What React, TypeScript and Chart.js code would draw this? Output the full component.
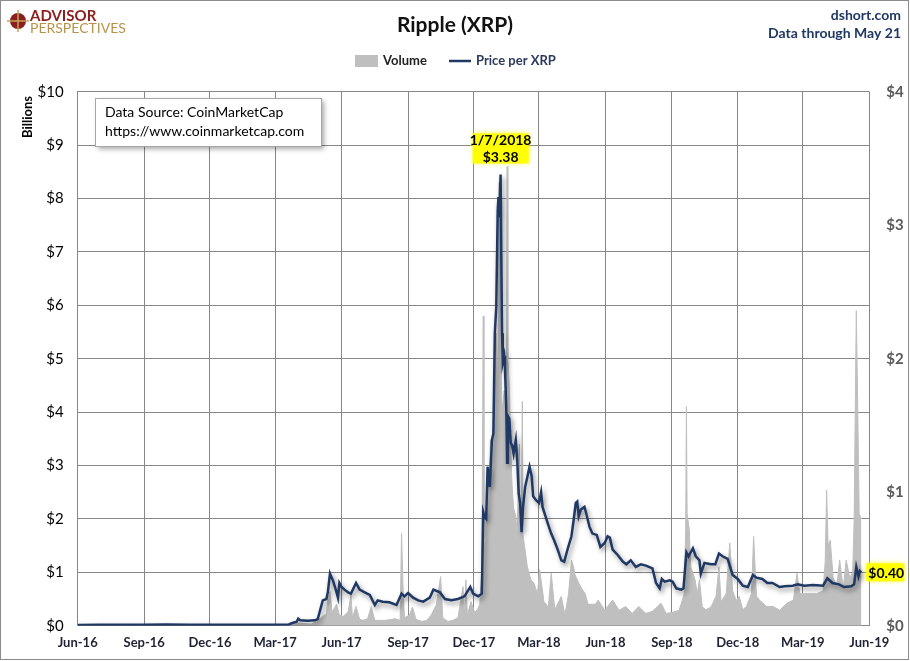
import React, { useEffect, useRef } from 'react';
import { Chart, registerables } from 'chart.js';

Chart.register(...registerables);

// ---- axis ticks ----
const xTickDates = ['2016-06-01', '2016-09-01', '2016-12-01', '2017-03-01', '2017-06-01', '2017-09-01', '2017-12-01', '2018-03-01', '2018-06-01', '2018-09-01', '2018-12-01', '2019-03-01', '2019-06-01'];
const xTickLabels = ['Jun-16', 'Sep-16', 'Dec-16', 'Mar-17', 'Jun-17', 'Sep-17', 'Dec-17', 'Mar-18', 'Jun-18', 'Sep-18', 'Dec-18', 'Mar-19', 'Jun-19'];

// ---- Volume (billions USD) ----
const volumeDates = [
  '2016-06-01', '2016-08-01', '2016-10-01', '2016-12-01', '2017-02-01', '2017-03-15', '2017-03-25', '2017-04-02', '2017-04-20',
  '2017-05-04', '2017-05-11', '2017-05-13', '2017-05-16', '2017-05-19', '2017-05-25', '2017-05-29', '2017-06-03', '2017-06-10',
  '2017-06-14', '2017-06-16', '2017-06-21', '2017-06-26', '2017-07-01', '2017-07-07', '2017-07-12', '2017-07-17', '2017-07-31',
  '2017-08-14', '2017-08-21', '2017-08-23', '2017-08-25', '2017-08-27', '2017-09-03', '2017-09-07', '2017-09-12', '2017-09-20',
  '2017-09-27', '2017-10-03', '2017-10-10', '2017-10-16', '2017-10-19', '2017-10-26', '2017-11-02', '2017-11-09', '2017-11-16',
  '2017-11-18', '2017-11-20', '2017-11-22', '2017-11-27', '2017-12-02', '2017-12-06', '2017-12-09', '2017-12-12', '2017-12-14',
  '2017-12-15', '2017-12-16', '2017-12-18', '2017-12-20', '2017-12-22', '2017-12-24', '2017-12-26', '2017-12-29', '2017-12-30',
  '2018-01-01', '2018-01-03', '2018-01-04', '2018-01-05', '2018-01-06', '2018-01-08', '2018-01-09', '2018-01-12', '2018-01-14',
  '2018-01-15', '2018-01-16', '2018-01-17', '2018-01-19', '2018-01-21', '2018-01-23', '2018-01-25', '2018-01-28', '2018-01-30',
  '2018-02-02', '2018-02-03', '2018-02-05', '2018-02-06', '2018-02-07', '2018-02-09', '2018-02-13', '2018-02-18', '2018-02-22',
  '2018-02-27', '2018-03-02', '2018-03-08', '2018-03-14', '2018-03-18', '2018-03-23', '2018-04-01', '2018-04-06', '2018-04-11',
  '2018-04-15', '2018-04-18', '2018-04-20', '2018-04-25', '2018-04-29', '2018-05-04', '2018-05-08', '2018-05-18', '2018-05-22',
  '2018-05-31', '2018-06-11', '2018-06-20', '2018-06-29', '2018-07-08', '2018-07-17', '2018-07-27', '2018-08-05', '2018-08-17',
  '2018-08-24', '2018-09-02', '2018-09-11', '2018-09-18', '2018-09-20', '2018-09-21', '2018-09-22', '2018-09-25', '2018-09-27',
  '2018-10-03', '2018-10-06', '2018-10-09', '2018-10-13', '2018-10-18', '2018-10-25', '2018-11-01', '2018-11-05', '2018-11-08',
  '2018-11-15', '2018-11-20', '2018-11-24', '2018-11-29', '2018-12-03', '2018-12-08', '2018-12-13', '2018-12-20', '2018-12-23',
  '2018-12-27', '2018-12-31', '2019-01-10', '2019-01-19', '2019-01-28', '2019-02-07', '2019-02-16', '2019-02-21', '2019-02-25',
  '2019-03-03', '2019-03-10', '2019-03-20', '2019-03-29', '2019-04-01', '2019-04-03', '2019-04-05', '2019-04-08', '2019-04-12',
  '2019-04-17', '2019-04-21', '2019-04-26', '2019-04-30', '2019-05-05', '2019-05-09', '2019-05-11', '2019-05-14', '2019-05-16',
  '2019-05-18', '2019-05-21',
];
const volumeValues = [
  0.002, 0.003, 0.006, 0.003, 0.003, 0.005, 0.02, 0.05, 0.03,
  0.15, 0.23, 0.48, 0.64, 0.25, 0.40, 0.20, 0.17, 0.26,
  0.57, 0.15, 0.36, 0.12, 0.10, 0.13, 0.36, 0.10, 0.10,
  0.13, 0.10, 1.73, 0.73, 0.15, 0.20, 0.35, 0.12, 0.08,
  0.10, 0.20, 0.39, 0.92, 0.15, 0.08, 0.10, 0.15, 0.73,
  0.20, 0.86, 0.20, 0.45, 0.25, 0.30, 0.40, 1.00, 5.80,
  1.60, 1.40, 2.05, 2.98, 2.35, 3.48, 2.60, 4.23, 4.85,
  5.48, 4.20, 6.40, 8.30, 7.35, 4.60, 4.00, 4.40, 3.80,
  4.50, 8.60, 5.00, 4.50, 3.30, 2.60, 2.20, 2.05, 1.70,
  3.40, 1.60, 2.35, 4.20, 1.70, 1.50, 1.10, 0.86, 0.80,
  0.60, 1.05, 0.45, 0.35, 0.98, 0.30, 0.55, 0.20, 0.60,
  1.23, 1.10, 0.95, 0.80, 0.70, 0.60, 0.40, 0.40, 0.48,
  0.29, 0.48, 0.29, 0.36, 0.23, 0.36, 0.23, 0.27, 0.42,
  0.23, 0.25, 0.29, 0.60, 1.80, 4.10, 2.10, 1.80, 1.10,
  0.86, 0.60, 0.86, 0.35, 0.30, 0.35, 0.55, 1.10, 0.45,
  0.60, 1.55, 0.65, 0.47, 0.55, 0.30, 0.36, 0.60, 1.67,
  0.55, 0.48, 0.36, 0.36, 0.29, 0.42, 0.48, 0.98, 0.60,
  0.60, 0.60, 0.60, 0.65, 1.20, 2.54, 1.50, 1.60, 0.90,
  0.75, 1.23, 0.70, 1.23, 0.90, 1.00, 1.98, 5.90, 4.10,
  2.10, 2.00,
];

// ---- Price per XRP (USD) ----
const priceDates = [
  '2016-06-01', '2016-07-01', '2016-08-01', '2016-09-01', '2016-10-01', '2016-11-01', '2016-12-01', '2017-01-01', '2017-02-01',
  '2017-03-01', '2017-03-20', '2017-03-25', '2017-03-31', '2017-04-02', '2017-04-05', '2017-04-15', '2017-04-25', '2017-04-29',
  '2017-05-06', '2017-05-11', '2017-05-13', '2017-05-16', '2017-05-20', '2017-05-24', '2017-05-27', '2017-05-29', '2017-06-01',
  '2017-06-05', '2017-06-10', '2017-06-14', '2017-06-21', '2017-06-26', '2017-07-03', '2017-07-10', '2017-07-17', '2017-07-21',
  '2017-07-28', '2017-08-06', '2017-08-16', '2017-08-23', '2017-08-27', '2017-09-01', '2017-09-08', '2017-09-15', '2017-09-22',
  '2017-10-01', '2017-10-06', '2017-10-15', '2017-10-22', '2017-10-31', '2017-11-09', '2017-11-18', '2017-11-26', '2017-11-30',
  '2017-12-07', '2017-12-12', '2017-12-14', '2017-12-16', '2017-12-18', '2017-12-20', '2017-12-23', '2017-12-26', '2017-12-28',
  '2017-12-30', '2018-01-01', '2018-01-03', '2018-01-04', '2018-01-05', '2018-01-07', '2018-01-08', '2018-01-09', '2018-01-10',
  '2018-01-12', '2018-01-13', '2018-01-15', '2018-01-16', '2018-01-17', '2018-01-19', '2018-01-21', '2018-01-23', '2018-01-25',
  '2018-01-28', '2018-01-30', '2018-02-01', '2018-02-03', '2018-02-05', '2018-02-07', '2018-02-10', '2018-02-12', '2018-02-14',
  '2018-02-16', '2018-02-19', '2018-02-21', '2018-02-25', '2018-03-01', '2018-03-04', '2018-03-06', '2018-03-10', '2018-03-13',
  '2018-03-18', '2018-03-22', '2018-03-27', '2018-04-01', '2018-04-05', '2018-04-10', '2018-04-15', '2018-04-18', '2018-04-21',
  '2018-04-23', '2018-04-25', '2018-04-28', '2018-05-03', '2018-05-05', '2018-05-10', '2018-05-14', '2018-05-20', '2018-05-25',
  '2018-05-31', '2018-06-04', '2018-06-07', '2018-06-11', '2018-06-18', '2018-06-25', '2018-06-30', '2018-07-06', '2018-07-13',
  '2018-07-20', '2018-07-27', '2018-08-05', '2018-08-10', '2018-08-15', '2018-08-18', '2018-08-22', '2018-08-29', '2018-09-02',
  '2018-09-07', '2018-09-14', '2018-09-17', '2018-09-21', '2018-09-24', '2018-09-30', '2018-10-04', '2018-10-09', '2018-10-11',
  '2018-10-16', '2018-10-25', '2018-10-31', '2018-11-05', '2018-11-10', '2018-11-17', '2018-11-24', '2018-12-01', '2018-12-08',
  '2018-12-15', '2018-12-22', '2018-12-27', '2019-01-04', '2019-01-11', '2019-01-18', '2019-01-28', '2019-02-04', '2019-02-15',
  '2019-02-22', '2019-03-03', '2019-03-15', '2019-03-29', '2019-04-04', '2019-04-11', '2019-04-20', '2019-04-27', '2019-05-07',
  '2019-05-11', '2019-05-14', '2019-05-17', '2019-05-19', '2019-05-21',
];
const priceValues = [
  0.0060, 0.0065, 0.0063, 0.0065, 0.0093, 0.0075, 0.0064, 0.0064, 0.0063,
  0.0065, 0.009, 0.020, 0.030, 0.052, 0.040, 0.037, 0.040, 0.050,
  0.19, 0.20, 0.25, 0.39, 0.34, 0.27, 0.21, 0.32, 0.29,
  0.27, 0.25, 0.24, 0.32, 0.27, 0.25, 0.23, 0.155, 0.19,
  0.18, 0.175, 0.155, 0.24, 0.22, 0.245, 0.21, 0.19, 0.18,
  0.21, 0.27, 0.25, 0.20, 0.19, 0.20, 0.22, 0.29, 0.24,
  0.22, 0.24, 0.85, 0.81, 0.80, 1.19, 1.04, 1.39, 1.44,
  2.19, 2.39, 3.11, 3.21, 3.06, 3.38, 2.74, 2.19, 1.97,
  2.02, 1.94, 1.59, 1.22, 1.57, 1.55, 1.37, 1.35, 1.29,
  1.39, 1.24, 0.99, 0.92, 0.70, 0.89, 1.04, 1.09, 1.14,
  1.19, 1.12, 0.97, 0.94, 0.92, 1.00, 0.89, 0.82, 0.77,
  0.69, 0.64, 0.57, 0.49, 0.48, 0.58, 0.67, 0.79, 0.92,
  0.93, 0.82, 0.87, 0.89, 0.85, 0.74, 0.69, 0.68, 0.59,
  0.62, 0.67, 0.66, 0.57, 0.53, 0.48, 0.46, 0.49, 0.44,
  0.46, 0.45, 0.43, 0.32, 0.28, 0.35, 0.33, 0.34, 0.33,
  0.28, 0.27, 0.28, 0.55, 0.52, 0.58, 0.52, 0.49, 0.39,
  0.47, 0.46, 0.46, 0.54, 0.52, 0.50, 0.38, 0.35, 0.30,
  0.29, 0.38, 0.36, 0.35, 0.32, 0.32, 0.29, 0.295, 0.30,
  0.31, 0.30, 0.305, 0.30, 0.355, 0.32, 0.31, 0.29, 0.295,
  0.31, 0.44, 0.37, 0.41, 0.40,
];

const BASE = Date.UTC(2016, 5, 1);
function dayOf(s: string): number {
  const [y, m, d] = s.split('-').map(Number);
  return (Date.UTC(y, m - 1, d) - BASE) / 86400000;
}
function fmtDate(s: string): string {
  const [y, m, d] = s.split('-').map(Number);
  return `${m}/${d}/${y}`;
}

const FONT = 'Lato, "Open Sans", sans-serif';
const NAVY = '#1F3864';
const GRID = '#878787';

const shadowPlugin = {
  id: 'lineShadow',
  beforeDatasetDraw(chart: any, args: any) {
    if (args.index === 1) {
      const c = chart.ctx;
      c.save();
      c.shadowColor = 'rgba(0,0,0,0.45)';
      c.shadowBlur = 5;
      c.shadowOffsetX = 2;
      c.shadowOffsetY = 3;
    }
  },
  afterDatasetDraw(chart: any, args: any) {
    if (args.index === 1) chart.ctx.restore();
  },
};

function yellowBox(c: CanvasRenderingContext2D, x: number, y: number, w: number, h: number) {
  c.save();
  c.shadowColor = 'rgba(255,255,0,0.9)';
  c.shadowBlur = 5;
  c.fillStyle = '#FFFF00';
  c.fillRect(x, y, w, h);
  c.restore();
}

const decorPlugin = {
  id: 'decor',
  afterDraw(chart: any) {
    const c: CanvasRenderingContext2D = chart.ctx;
    const xs = chart.scales.x;
    const y1 = chart.scales.y1;
    c.save();
    // outer border
    c.strokeStyle = '#8c8c8c';
    c.lineWidth = 1;
    c.strokeRect(0.5, 0.5, 908, 659);

    // logo
    c.fillStyle = '#8B1E1E';
    c.beginPath();
    c.arc(18, 21, 8, 0, Math.PI * 2);
    c.fill();
    c.strokeStyle = '#C9A35A';
    c.lineWidth = 1.5;
    c.beginPath();
    c.moveTo(18, 10); c.lineTo(18, 32);
    c.moveTo(7, 21); c.lineTo(29, 21);
    c.stroke();
    c.textBaseline = 'middle';
    c.textAlign = 'left';
    c.fillStyle = '#8B1E1E';
    c.font = `bold 15px ${FONT}`;
    c.fillText('ADVISOR', 30, 16);
    c.fillStyle = '#B8924A';
    c.font = `14px ${FONT}`;
    c.fillText('PERSPECTIVES', 30, 28);

    // title
    c.fillStyle = '#111';
    c.textAlign = 'center';
    c.font = `bold 21px ${FONT}`;
    c.fillText('Ripple (XRP)', 455, 25);

    // top right
    c.textAlign = 'right';
    c.fillStyle = NAVY;
    c.font = `bold 14px ${FONT}`;
    c.fillText('dshort.com', 901, 15);
    c.fillText('Data through May 21', 901, 33);

    // legend
    c.fillStyle = '#BFBFBF';
    c.fillRect(355, 55, 23, 12);
    c.textAlign = 'left';
    c.font = `bold 13px ${FONT}`;
    c.fillStyle = '#222';
    c.fillText('Volume', 383, 61);
    c.strokeStyle = NAVY;
    c.lineWidth = 2.5;
    c.beginPath();
    c.moveTo(449, 61); c.lineTo(471, 61);
    c.stroke();
    c.fillStyle = '#2B3A5E';
    c.fillText('Price per XRP', 476, 61);

    // Billions
    c.save();
    c.translate(28, 117);
    c.rotate(-Math.PI / 2);
    c.textAlign = 'center';
    c.fillStyle = '#000';
    c.font = `bold 13px ${FONT}`;
    c.fillText('Billions', 0, 0);
    c.restore();

    // data source box
    c.save();
    c.shadowColor = 'rgba(0,0,0,0.35)';
    c.shadowBlur = 5;
    c.shadowOffsetX = 3;
    c.shadowOffsetY = 3;
    c.fillStyle = '#fff';
    c.fillRect(95, 98, 226, 48);
    c.restore();
    c.strokeStyle = '#A6A6A6';
    c.lineWidth = 1;
    c.strokeRect(95.5, 98.5, 226, 48);
    c.fillStyle = '#000';
    c.font = `14px ${FONT}`;
    c.textAlign = 'left';
    c.fillText('Data Source: CoinMarketCap', 105, 112);
    c.fillText('https://www.coinmarketcap.com', 105, 131);

    // peak annotation
    let pk = 0;
    priceValues.forEach((v, i) => { if (v > priceValues[pk]) pk = i; });
    const px = xs.getPixelForValue(dayOf(priceDates[pk]));
    const py = y1.getPixelForValue(priceValues[pk]);
    yellowBox(c, px - 28, py - 41, 56, 30);
    c.fillStyle = '#000';
    c.textAlign = 'center';
    c.font = `bold 14px ${FONT}`;
    c.fillText(fmtDate(priceDates[pk]), px, py - 34);
    c.fillText('$' + priceValues[pk].toFixed(2), px, py - 17);

    // last value label
    const li = priceValues.length - 1;
    const lx = xs.getPixelForValue(dayOf(priceDates[li]));
    const ly = y1.getPixelForValue(priceValues[li]);
    yellowBox(c, lx + 5, ly - 9, 38, 18);
    c.fillStyle = '#000';
    c.textAlign = 'left';
    c.font = `bold 14px ${FONT}`;
    c.fillText('$' + priceValues[li].toFixed(2), lx + 7, ly + 1);
    c.restore();
  },
};

export default function App() {
  const ref = useRef<HTMLCanvasElement | null>(null);
  useEffect(() => {
    document.body.style.margin = '0';
    const tickDays = xTickDates.map(dayOf);
    const chart = new Chart(ref.current as HTMLCanvasElement, {
      type: 'line',
      data: {
        datasets: [
          {
            label: 'Volume',
            data: volumeDates.map((d, i) => ({ x: dayOf(d), y: volumeValues[i] })),
            yAxisID: 'y',
            fill: 'origin',
            backgroundColor: '#BFBFBF',
            borderColor: '#BFBFBF',
            borderWidth: 1,
            pointRadius: 0,
            tension: 0,
            order: 2,
          },
          {
            label: 'Price per XRP',
            data: priceDates.map((d, i) => ({ x: dayOf(d), y: priceValues[i] })),
            yAxisID: 'y1',
            fill: false,
            borderColor: NAVY,
            borderWidth: 2.5,
            pointRadius: 0,
            tension: 0,
            order: 1,
          },
        ],
      } as any,
      options: {
        responsive: false,
        animation: false,
        devicePixelRatio: 1,
        layout: { padding: { left: 10, top: 91.7, right: 0, bottom: 0 } },
        font: { family: FONT } as any,
        plugins: { legend: { display: false }, tooltip: { enabled: false }, title: { display: false } },
        scales: {
          x: {
            type: 'linear',
            min: 0,
            max: dayOf(xTickDates[xTickDates.length - 1]),
            afterBuildTicks: (s: any) => { s.ticks = tickDays.map((v) => ({ value: v })); },
            afterFit: (s: any) => { s.height = 35.3; },
            ticks: {
              autoSkip: false,
              maxRotation: 0,
              minRotation: 0,
              padding: 9,
              color: '#1e2233',
              font: { family: FONT, size: 13, weight: 'bold' },
              callback: (v: any) => { const i = tickDays.indexOf(Number(v)); return i >= 0 ? xTickLabels[i] : ''; },
            },
            grid: { color: GRID, drawTicks: false, lineWidth: 1 },
            border: { color: GRID },
          },
          y: {
            position: 'left',
            min: 0,
            max: 10,
            afterFit: (s: any) => { s.width = 67.7; },
            ticks: {
              stepSize: 1,
              padding: 14,
              color: '#000',
              font: { family: FONT, size: 15 },
              callback: (v: any) => '$' + v,
            },
            grid: { color: GRID, drawTicks: false, lineWidth: 1 },
            border: { color: GRID },
          },
          y1: {
            position: 'right',
            min: 0,
            max: 4,
            afterFit: (s: any) => { s.width = 40.7; },
            ticks: {
              stepSize: 1,
              padding: 17,
              color: '#595959',
              font: { family: FONT, size: 15, weight: 'bold' },
              callback: (v: any) => '$' + v,
            },
            grid: { display: false, drawTicks: false },
            border: { display: false },
          },
        },
      } as any,
      plugins: [shadowPlugin, decorPlugin],
    });
    return () => chart.destroy();
  }, []);
  return (
    <div style={{ width: 910, height: 661, position: 'relative', background: '#fff' }}>
      <canvas ref={ref} width={910} height={661} style={{ display: 'block' }} />
    </div>
  );
}
